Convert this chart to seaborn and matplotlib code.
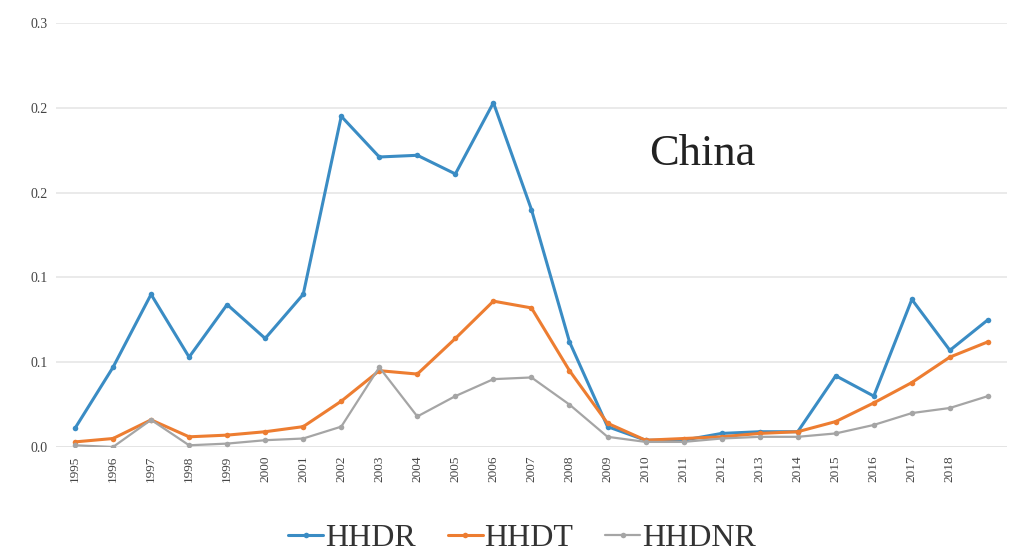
import numpy as np
import pandas as pd
import matplotlib
matplotlib.use('Agg')
import matplotlib.pyplot as plt
import seaborn as sns

# Data
years = list(range(1995, 2020))
hhdr = [0.011, 0.047, 0.090, 0.053, 0.084, 0.064, 0.090, 0.195, 0.171, 0.172, 0.161, 0.203,
        0.140, 0.062, 0.012, 0.004, 0.004, 0.008, 0.009, 0.009, 0.042, 0.030, 0.087, 0.057, 0.075]
hhdt = [0.003, 0.005, 0.016, 0.006, 0.007, 0.009, 0.012, 0.027, 0.045, 0.043, 0.064, 0.086,
        0.082, 0.045, 0.014, 0.004, 0.005, 0.006, 0.008, 0.009, 0.015, 0.026, 0.038, 0.053, 0.062]
hhdnr = [0.001, 0.000, 0.016, 0.001, 0.002, 0.004, 0.005, 0.012, 0.047, 0.018, 0.030, 0.040,
         0.041, 0.025, 0.006, 0.003, 0.003, 0.005, 0.006, 0.006, 0.008, 0.013, 0.020, 0.023, 0.030]
series_names = ['HHDR', 'HHDT', 'HHDNR']
xtick_labels = [str(y) for y in range(1995, 2019)]  # last category has no label
yticks = [0, 0.05, 0.10, 0.15, 0.20, 0.25]
ytick_labels = ['0.0', '0.1', '0.1', '0.2', '0.2', '0.3']

df = pd.DataFrame({
    'pos': list(range(len(years))) * 3,
    'value': hhdr + hhdt + hhdnr,
    'series': [n for n in series_names for _ in years],
})

colors = {'HHDR': '#3a8cc4', 'HHDT': '#ed7d31', 'HHDNR': '#a5a5a5'}

sns.set_style('white')
plt.rcParams['font.family'] = ['Liberation Serif', 'DejaVu Serif']

fig = plt.figure(figsize=(10.12, 5.53), dpi=100)
ax = fig.add_axes([0.0553, 0.1917, 0.9397, 0.7667])

sns.lineplot(data=df, x='pos', y='value', hue='series', palette=colors,
             marker='o', markersize=4, markeredgewidth=0, linewidth=2.2, ax=ax)
# thinner gray line
for line in ax.get_lines():
    if line.get_color() == '#a5a5a5':
        line.set_linewidth(1.6)

ax.set_xlim(-0.5, len(years) - 0.5)
ax.set_ylim(0, 0.25)
ax.set_xticks(range(len(xtick_labels)))
ax.set_xticklabels(xtick_labels, rotation=90, fontsize=9.5, color='#444444')
ax.set_yticks(yticks)
ax.set_yticklabels(ytick_labels, fontsize=10, color='#444444')
ax.tick_params(axis='both', length=0, pad=6)
ax.yaxis.grid(True, color='#e6e6e6', linewidth=1.2)
ax.set_axisbelow(True)
for s in ax.spines.values():
    s.set_visible(False)
ax.axhline(0, color='#d9d9d9', linewidth=1.2, zorder=0)
ax.set_xlabel('')
ax.set_ylabel('')

ax.text(16.5, 0.173, 'China', fontsize=32, ha='center', va='center', color='#222222')

handles, labels = ax.get_legend_handles_labels()
ax.legend(handles, labels, loc='center', bbox_to_anchor=(0.49, -0.215), ncol=3,
          frameon=False, fontsize=23, handlelength=1.1, handletextpad=0.05,
          columnspacing=1.0, labelcolor='#333333', borderpad=0)

fig.savefig('out.png', dpi=100)
